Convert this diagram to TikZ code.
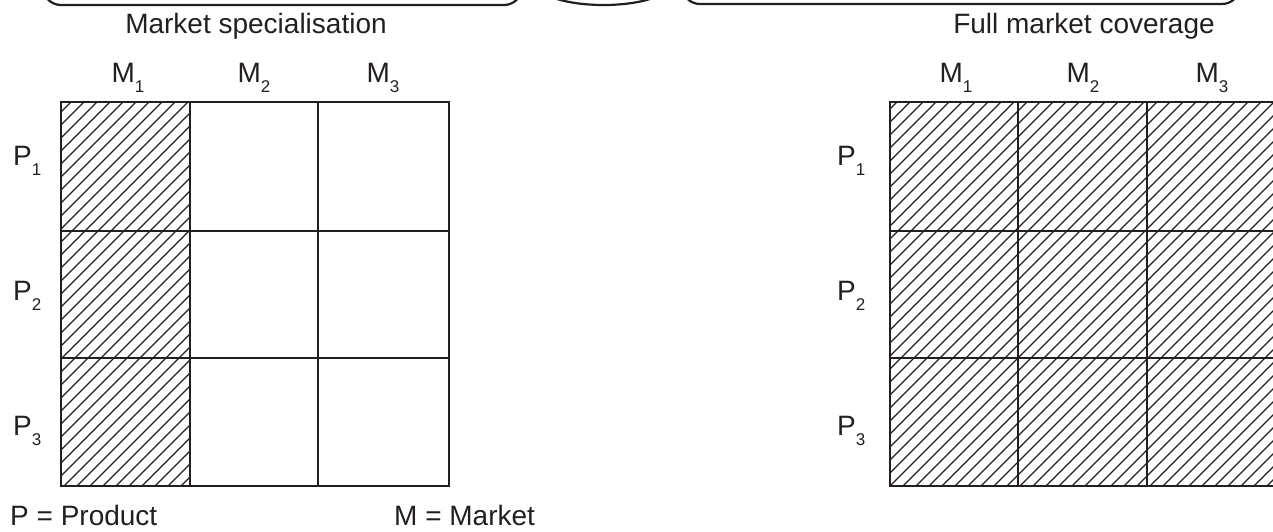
\documentclass[tikz,border=0pt]{standalone}
\usepackage{fontspec}
\setmainfont{Liberation Sans}
\definecolor{ink}{HTML}{231F20}
\newcommand{\sublab}[2]{#1\raisebox{-10pt}{\fontsize{17}{17}\selectfont #2}}
\tikzset{
  gridline/.style={draw=ink, line width=2.6pt},
  hatchline/.style={draw=ink, line width=1.3pt},
  boxline/.style={draw=ink, line width=2.2pt, rounded corners=18pt},
  lbl/.style={inner sep=0pt, text=ink, font=\fontsize{28}{30}\selectfont},
}
\begin{document}
\begin{tikzpicture}[x=1pt,y=-1pt]
\useasboundingbox (0,0) rectangle (1273,531);
\clip (0,0) rectangle (1273,531);

% top partial boxes
\draw[boxline] (43,-60) rectangle (522,5);
\draw[draw=ink, line width=2.2pt] (603.5,-15) ellipse [x radius=65pt, y radius=20pt];
\draw[boxline] (682,-60) rectangle (1240,4);

% titles
\node[lbl, anchor=base] (t1) at (256,33) {Market specialisation};
\node[lbl, anchor=base] (t2) at (1084,33) {Full market coverage};

% hatching left grid (column 1)
\begin{scope}
\clip (61,102) rectangle (190,486);
\foreach \i in {0,...,45} \draw[hatchline] ({-330+13*\i},490) -- ++(400,-400);
\end{scope}
% hatching right grid (all)
\begin{scope}
\clip (890,102) rectangle (1280,486);
\foreach \i in {0,...,62} \draw[hatchline] ({496+13*\i},490) -- ++(400,-400);
\end{scope}

% left grid
\draw[gridline] (61,102) rectangle (449,486);
\draw[gridline] (190,102) -- (190,486);
\draw[gridline] (318,102) -- (318,486);
\draw[gridline] (61,231) -- (449,231);
\draw[gridline] (61,358) -- (449,358);

% right grid
\draw[gridline] (1290,102) -- (890,102) -- (890,486) -- (1290,486);
\draw[gridline] (1018,102) -- (1018,486);
\draw[gridline] (1147,102) -- (1147,486);
\draw[gridline] (890,231) -- (1290,231);
\draw[gridline] (890,358) -- (1290,358);

% column labels
\node[lbl, anchor=base] (lm1) at (128,82) {\sublab{M}{1}};
\node[lbl, anchor=base] (lm2) at (254,82) {\sublab{M}{2}};
\node[lbl, anchor=base] (lm3) at (383,82) {\sublab{M}{3}};
\node[lbl, anchor=base] (rm1) at (956,82) {\sublab{M}{1}};
\node[lbl, anchor=base] (rm2) at (1083,82) {\sublab{M}{2}};
\node[lbl, anchor=base] (rm3) at (1212,82) {\sublab{M}{3}};

% row labels
\node[lbl, anchor=base west] (lp1) at (13,165) {\sublab{P}{1}};
\node[lbl, anchor=base west] (lp2) at (13,300) {\sublab{P}{2}};
\node[lbl, anchor=base west] (lp3) at (13,435) {\sublab{P}{3}};
\node[lbl, anchor=base west] (rp1) at (837,165) {\sublab{P}{1}};
\node[lbl, anchor=base west] (rp2) at (837,300) {\sublab{P}{2}};
\node[lbl, anchor=base west] (rp3) at (837,435) {\sublab{P}{3}};

% legend
\node[lbl, anchor=base west] (legp) at (10,525) {P = Product};
\node[lbl, anchor=base west] (legm) at (394,525) {M = Market};
\end{tikzpicture}
\end{document}
